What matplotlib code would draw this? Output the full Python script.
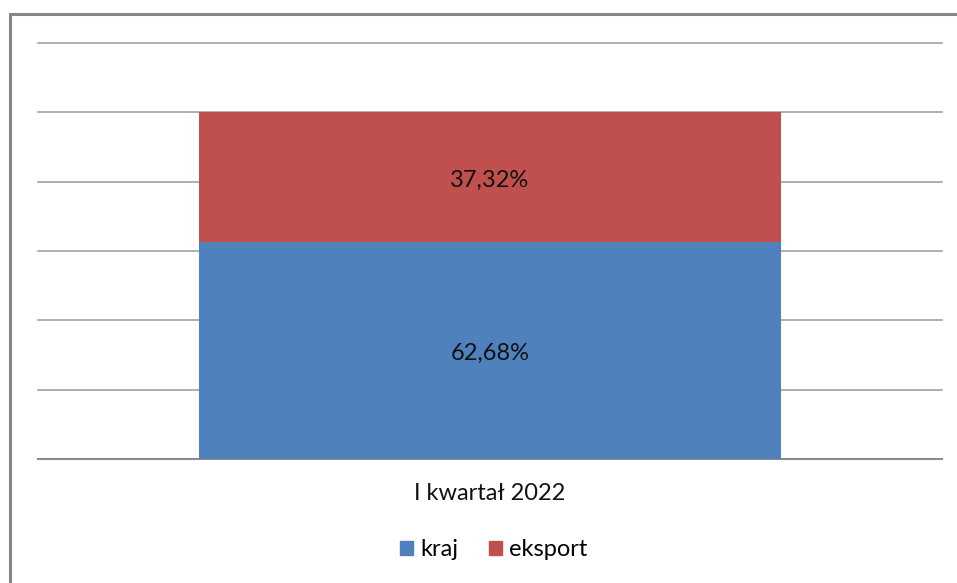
import matplotlib
matplotlib.use("Agg")
import matplotlib.pyplot as plt
from matplotlib.patches import Rectangle, Patch

categories = ["I kwartał 2022"]
kraj = [0.6268]
eksport = [0.3732]
kraj_labels = ["62,68%"]
eksport_labels = ["37,32%"]
series_names = ["kraj", "eksport"]

plt.rcParams['font.family'] = ['Lato', 'DejaVu Sans']

W, H = 957, 583
fig = plt.figure(figsize=(W / 100, H / 100), dpi=100)

# outer frame
fig.patches.append(Rectangle((9.5 / W, -0.1), 1.2, 1 - 14.5 / H + 0.1,
                             transform=fig.transFigure, fill=False,
                             edgecolor="#868686", linewidth=2.2))

ax = fig.add_axes([38 / W, 1 - 459 / H, (942 - 38) / W, (459 - 43) / H])
x = range(len(categories))
blue = "#4F81BD"
red = "#C0504D"
ax.bar(x, kraj, width=0.643, color=blue, zorder=3)
ax.bar(x, eksport, bottom=kraj, width=0.643, color=red, zorder=3)

fs = 17
for i in x:
    ax.annotate(kraj_labels[i], (i, kraj[i] / 2), xytext=(0, -2.5),
                textcoords="offset points", ha="center", va="center",
                fontsize=fs, color="#111111", zorder=4)
    ax.annotate(eksport_labels[i], (i, kraj[i] + eksport[i] / 2), xytext=(0, -2.5),
                textcoords="offset points", ha="center", va="center",
                fontsize=fs, color="#111111", zorder=4)

ax.set_xlim(-0.5, 0.5)
ax.set_ylim(0, 1.2)
ax.set_yticks([0.2 * k for k in range(7)])
ax.yaxis.grid(True, color="#999999", linewidth=1.1, zorder=0)
for gl in ax.get_ygridlines():
    gl.set_clip_on(False)
ax.tick_params(axis="y", left=False, labelleft=False)
ax.set_xticks(list(x))
ax.set_xticklabels(categories, fontsize=fs, color="#111111")
ax.tick_params(axis="x", bottom=False, pad=14)
for s in ["top", "right", "left"]:
    ax.spines[s].set_visible(False)
ax.spines["bottom"].set_color("#8c8c8c")
ax.spines["bottom"].set_linewidth(1.5)

handles = [Patch(color=blue), Patch(color=red)]
fig.legend(handles, series_names, loc="center", bbox_to_anchor=(494 / W, 1 - 550 / H),
           ncol=2, frameon=False, fontsize=fs, handlelength=0.55, handleheight=0.55,
           handletextpad=0.3, columnspacing=1.3)

fig.savefig("out.png", dpi=100)
